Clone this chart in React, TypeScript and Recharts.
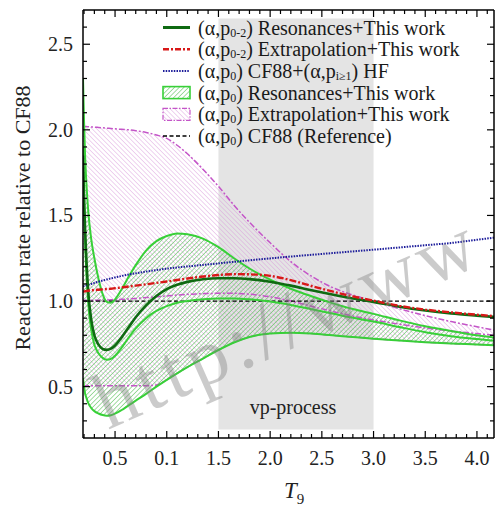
import { Area, ComposedChart, Line, ReferenceArea, ReferenceLine, XAxis, YAxis } from 'recharts'

const SERIF = "'Liberation Serif', 'Times New Roman', serif"

// temperature grid (T9) and curves
const T9 = [0.19, 0.2, 0.21, 0.22, 0.24, 0.27, 0.3, 0.34, 0.38, 0.42, 0.46, 0.5, 0.56, 0.63, 0.7, 0.8, 0.9, 1.0, 1.1, 1.2, 1.35, 1.5, 1.65, 1.8, 2.0, 2.2, 2.4, 2.6, 2.8, 3.0, 3.25, 3.5, 3.75, 4.0, 4.165]

const res02 = [1.85, 1.6, 1.42, 1.28, 1.06, 0.89, 0.8, 0.745, 0.72, 0.715, 0.722, 0.74, 0.785, 0.845, 0.905, 0.975, 1.03, 1.07, 1.095, 1.112, 1.127, 1.133, 1.133, 1.128, 1.113, 1.09, 1.063, 1.038, 1.015, 0.995, 0.967, 0.945, 0.928, 0.915, 0.907]
const ext02 = [1.055, 1.056, 1.057, 1.058, 1.06, 1.062, 1.064, 1.066, 1.068, 1.07, 1.072, 1.075, 1.079, 1.085, 1.09, 1.098, 1.106, 1.114, 1.123, 1.132, 1.143, 1.152, 1.157, 1.156, 1.147, 1.122, 1.088, 1.056, 1.027, 1.002, 0.972, 0.95, 0.934, 0.92, 0.912]
const hf = [1.085, 1.087, 1.089, 1.091, 1.095, 1.1, 1.106, 1.113, 1.12, 1.126, 1.132, 1.138, 1.146, 1.155, 1.162, 1.172, 1.181, 1.189, 1.196, 1.202, 1.211, 1.22, 1.229, 1.238, 1.249, 1.26, 1.27, 1.28, 1.29, 1.3, 1.313, 1.326, 1.339, 1.358, 1.37]

const gUp = [2.3, 2.05, 1.85, 1.72, 1.53, 1.36, 1.25, 1.13, 1.04, 0.995, 0.99, 1.01, 1.065, 1.14, 1.21, 1.295, 1.35, 1.38, 1.395, 1.39, 1.365, 1.315, 1.25, 1.19, 1.125, 1.072, 1.028, 0.988, 0.953, 0.925, 0.887, 0.853, 0.825, 0.8, 0.787]
const gMid = [1.9, 1.6, 1.36, 1.2, 0.99, 0.83, 0.745, 0.695, 0.668, 0.657, 0.662, 0.68, 0.725, 0.785, 0.84, 0.9, 0.942, 0.97, 0.99, 1.0, 1.01, 1.015, 1.015, 1.01, 0.997, 0.977, 0.952, 0.927, 0.902, 0.88, 0.848, 0.818, 0.795, 0.778, 0.768]
const gLo = [0.55, 0.5, 0.46, 0.44, 0.405, 0.375, 0.357, 0.343, 0.334, 0.33, 0.333, 0.342, 0.362, 0.39, 0.418, 0.458, 0.5, 0.54, 0.578, 0.614, 0.664, 0.714, 0.758, 0.79, 0.81, 0.815, 0.81, 0.8, 0.79, 0.78, 0.77, 0.76, 0.752, 0.746, 0.742]

const mUp = [2.02, 2.02, 2.02, 2.019, 2.018, 2.017, 2.016, 2.014, 2.012, 2.01, 2.008, 2.006, 2.003, 2.0, 1.995, 1.985, 1.97, 1.95, 1.91, 1.86, 1.77, 1.67, 1.56, 1.46, 1.34, 1.23, 1.145, 1.08, 1.035, 1.0, 0.955, 0.915, 0.88, 0.85, 0.83]
const mMid = [1.005, 1.005, 1.005, 1.005, 1.005, 1.005, 1.005, 1.005, 1.006, 1.006, 1.007, 1.008, 1.01, 1.012, 1.015, 1.02, 1.025, 1.03, 1.035, 1.039, 1.043, 1.045, 1.045, 1.04, 1.025, 1.0, 0.97, 0.94, 0.912, 0.89, 0.865, 0.843, 0.825, 0.81, 0.8]
const mLo = [0.505, 0.505, 0.505, 0.505, 0.505, 0.505, 0.505, 0.505, 0.505, 0.505, 0.505, 0.505, 0.505, 0.505, 0.505, 0.505, 0.51, 0.54, 0.578, 0.614, 0.664, 0.714, 0.758, 0.79, 0.81, 0.815, 0.81, 0.8, 0.79, 0.78, 0.77, 0.76, 0.752, 0.746, 0.742]

const cf88Ref = 1.0
const vpRange = [1.5, 3.0]

const xMajor = [0.5, 1.0, 1.5, 2.0, 2.5, 3.0, 3.5, 4.0]
const xTickLabels = ['0.5', '0.1', '1.5', '2.0', '2.5', '3.0', '3.5', '4.0']
const xTicks = [0.2, 0.3, 0.4, 0.5, 0.6, 0.7, 0.8, 0.9, 1.0, 1.1, 1.2, 1.3, 1.4, 1.5, 1.6, 1.7, 1.8, 1.9, 2.0, 2.1, 2.2, 2.3, 2.4, 2.5, 2.6, 2.7, 2.8, 2.9, 3.0, 3.1, 3.2, 3.3, 3.4, 3.5, 3.6, 3.7, 3.8, 3.9, 4.0, 4.1]
const yMajor = [0.5, 1.0, 1.5, 2.0, 2.5]
const yTickLabels = ['0.5', '1.0', '1.5', '2.0', '2.5']
const yTicks = [0.3, 0.4, 0.5, 0.6, 0.7, 0.8, 0.9, 1.0, 1.1, 1.2, 1.3, 1.4, 1.5, 1.6, 1.7, 1.8, 1.9, 2.0, 2.1, 2.2, 2.3, 2.4, 2.5, 2.6]

const data = T9.map((t, i) => ({
  t,
  res02: res02[i],
  ext02: ext02[i],
  hf: hf[i],
  gUp: gUp[i],
  gMid: gMid[i],
  gLo: gLo[i],
  mUp: mUp[i],
  mMid: mMid[i],
  mLo: mLo[i],
  gBand: [gLo[i], gUp[i]],
  mBand: [mLo[i], mUp[i]],
}))

const X_DOMAIN: [number, number] = [0.19, 4.165]
const Y_DOMAIN: [number, number] = [0.2, 2.7]

const DARK = '#0f6a12'
const LIGHT = '#38d038'
const RED = '#d81818'
const BLUE = '#1c1c9a'
const MAG = '#c455c8'

const labelOf = (v: number, majors: number[], labels: string[]) => {
  const i = majors.findIndex((m) => Math.abs(m - v) < 1e-6)
  return i < 0 ? null : labels[i]
}

function BottomTick({ x, y, payload }: any) {
  const lab = labelOf(payload.value, xMajor, xTickLabels)
  return (
    <g>
      <line x1={x} x2={x} y1={y} y2={y - (lab ? 7 : 4)} stroke="#000" strokeWidth={1.2} />
      {lab && (
        <text x={x} y={y + 27} textAnchor="middle" fontSize={20} fontFamily={SERIF} fill="#222">
          {lab}
        </text>
      )}
    </g>
  )
}

function TopTick({ x, y, payload }: any) {
  const major = labelOf(payload.value, xMajor, xTickLabels)
  return <line x1={x} x2={x} y1={y} y2={y + (major ? 7 : 4)} stroke="#000" strokeWidth={1.2} />
}

function LeftTick({ x, y, payload }: any) {
  const lab = labelOf(payload.value, yMajor, yTickLabels)
  return (
    <g>
      <line x1={x} x2={x + (lab ? 7 : 4)} y1={y} y2={y} stroke="#000" strokeWidth={1.2} />
      {lab && (
        <text x={x - 10} y={y + 7} textAnchor="end" fontSize={20} fontFamily={SERIF} fill="#222">
          {lab}
        </text>
      )}
    </g>
  )
}

function RightTick({ x, y, payload }: any) {
  const major = labelOf(payload.value, yMajor, yTickLabels)
  return <line x1={x} x2={x - (major ? 7 : 4)} y1={y} y2={y} stroke="#000" strokeWidth={1.2} />
}

// one legend label: "(α,p" + subscript + rest, optionally a second subscript
function Label({ y, sub, rest, sub2, tail }: { y: number; sub: string; rest: string; sub2?: string; tail?: string }) {
  return (
    <text x={198} y={y}>
      <tspan>(α,p</tspan>
      <tspan dy={2} fontSize={12}>
        {sub}
      </tspan>
      <tspan dy={-2}>{rest}</tspan>
      {sub2 && (
        <>
          <tspan dy={2} fontSize={12}>
            {sub2}
          </tspan>
          <tspan dy={-2}>{tail}</tspan>
        </>
      )}
    </text>
  )
}

function Legend() {
  const x0 = 163
  const x1 = 190
  const rows = [27.5, 49.2, 70.9, 92.6, 114.3, 136]
  const ty = (r: number) => r + 7
  return (
    <g fontFamily={SERIF} fontSize={20} fill="#1a1a1a">
      <line x1={x0} x2={x1} y1={rows[0]} y2={rows[0]} stroke={DARK} strokeWidth={3} />
      <Label y={ty(rows[0])} sub="0-2" rest=") Resonances+This work" />
      <line x1={x0} x2={x1} y1={rows[1]} y2={rows[1]} stroke={RED} strokeWidth={2.5} strokeDasharray="6 2 2 2" />
      <Label y={ty(rows[1])} sub="0-2" rest=") Extrapolation+This work" />
      <line x1={x0} x2={x1} y1={rows[2]} y2={rows[2]} stroke={BLUE} strokeWidth={2} strokeDasharray="1.5 1.2" />
      <Label y={ty(rows[2])} sub="0" rest=") CF88+(α,p" sub2="i≥1" tail=") HF" />
      <rect x={x0} y={rows[3] - 6} width={x1 - x0} height={12} fill="url(#gHatch)" stroke={LIGHT} strokeWidth={1.6} />
      <Label y={ty(rows[3])} sub="0" rest=") Resonances+This work" />
      <rect x={x0} y={rows[4] - 6} width={x1 - x0} height={12} fill="url(#mHatch)" stroke={MAG} strokeWidth={1.2} strokeDasharray="5 1.5 1.5 1.5" />
      <Label y={ty(rows[4])} sub="0" rest=") Extrapolation+This work" />
      <line x1={x0} x2={x1} y1={rows[5]} y2={rows[5]} stroke="#000" strokeWidth={1.4} strokeDasharray="4 2.5" />
      <Label y={ty(rows[5])} sub="0" rest=") CF88 (Reference)" />
    </g>
  )
}

export default function App() {
  return (
    <div style={{ position: 'absolute', left: 0, top: 0, width: 496, height: 506, background: '#fff' }}>
      <svg width={0} height={0} style={{ position: 'absolute' }}>
        <defs>
          <pattern id="gHatch" width={3.3} height={3.3} patternUnits="userSpaceOnUse" patternTransform="rotate(45)">
            <line x1={0} y1={0} x2={0} y2={3.3} stroke="#47b947" strokeWidth={1} />
          </pattern>
          <pattern id="mHatch" width={3.3} height={3.3} patternUnits="userSpaceOnUse" patternTransform="rotate(-45)">
            <line x1={0} y1={0} x2={0} y2={3.3} stroke="#d797da" strokeWidth={0.85} />
          </pattern>
        </defs>
      </svg>
      <ComposedChart width={496} height={506} data={data} margin={{ top: 9, right: 1, bottom: 0, left: 0 }}>
        <XAxis
          xAxisId="b"
          dataKey="t"
          type="number"
          domain={X_DOMAIN}
          allowDataOverflow
          ticks={xTicks}
          interval={0}
          height={68}
          tickSize={0}
          tickMargin={0}
          tick={<BottomTick />}
          axisLine={{ stroke: '#000', strokeWidth: 1.5 }}
          tickLine={false}
        />
        <XAxis
          xAxisId="t"
          orientation="top"
          dataKey="t"
          type="number"
          domain={X_DOMAIN}
          allowDataOverflow
          ticks={xTicks}
          interval={0}
          height={1}
          tickSize={0}
          tickMargin={0}
          tick={<TopTick />}
          axisLine={{ stroke: '#000', strokeWidth: 1.5 }}
          tickLine={false}
        />
        <YAxis
          yAxisId="l"
          type="number"
          domain={Y_DOMAIN}
          allowDataOverflow
          ticks={yTicks}
          interval={0}
          width={83}
          tickSize={0}
          tickMargin={0}
          tick={<LeftTick />}
          axisLine={{ stroke: '#000', strokeWidth: 1.5 }}
          tickLine={false}
        />
        <YAxis
          yAxisId="r"
          orientation="right"
          type="number"
          domain={Y_DOMAIN}
          allowDataOverflow
          ticks={yTicks}
          interval={0}
          width={1}
          tickSize={0}
          tickMargin={0}
          tick={<RightTick />}
          axisLine={{ stroke: '#000', strokeWidth: 1.5 }}
          tickLine={false}
        />
        <ReferenceArea xAxisId="b" yAxisId="l" x1={vpRange[0]} x2={vpRange[1]} y1={0.25} y2={2.65} fill="#e4e4e4" fillOpacity={1} stroke="none" />
        <Area xAxisId="b" yAxisId="l" type="monotone" dataKey="mBand" fill="url(#mHatch)" fillOpacity={1} stroke="none" isAnimationActive={false} />
        <Area xAxisId="b" yAxisId="l" type="monotone" dataKey="gBand" fill="url(#gHatch)" fillOpacity={1} stroke="none" isAnimationActive={false} />
        <Line xAxisId="b" yAxisId="l" type="monotone" dataKey="mUp" stroke={MAG} strokeWidth={1.5} strokeDasharray="6 2 2 2" dot={false} activeDot={false} isAnimationActive={false} />
        <Line xAxisId="b" yAxisId="l" type="monotone" dataKey="mMid" stroke={MAG} strokeWidth={1.5} strokeDasharray="6 2 2 2" dot={false} activeDot={false} isAnimationActive={false} />
        <Line xAxisId="b" yAxisId="l" type="monotone" dataKey="mLo" stroke={MAG} strokeWidth={1.5} strokeDasharray="6 2 2 2" dot={false} activeDot={false} isAnimationActive={false} />
        <ReferenceLine xAxisId="b" yAxisId="l" y={cf88Ref} stroke="#000" strokeWidth={1.3} strokeDasharray="4 2.5" />
        <Line xAxisId="b" yAxisId="l" type="monotone" dataKey="gUp" stroke={LIGHT} strokeWidth={2} dot={false} activeDot={false} isAnimationActive={false} />
        <Line xAxisId="b" yAxisId="l" type="monotone" dataKey="gMid" stroke={LIGHT} strokeWidth={2} dot={false} activeDot={false} isAnimationActive={false} />
        <Line xAxisId="b" yAxisId="l" type="monotone" dataKey="gLo" stroke={LIGHT} strokeWidth={2} dot={false} activeDot={false} isAnimationActive={false} />
        <Line xAxisId="b" yAxisId="l" type="monotone" dataKey="hf" stroke={BLUE} strokeWidth={2} strokeDasharray="1.5 1.2" dot={false} activeDot={false} isAnimationActive={false} />
        <Line xAxisId="b" yAxisId="l" type="monotone" dataKey="res02" stroke={DARK} strokeWidth={2.6} dot={false} activeDot={false} isAnimationActive={false} />
        <Line xAxisId="b" yAxisId="l" type="monotone" dataKey="ext02" stroke={RED} strokeWidth={2.4} strokeDasharray="7 2 2 2" dot={false} activeDot={false} isAnimationActive={false} />
      </ComposedChart>
      <svg width={496} height={506} style={{ position: 'absolute', left: 0, top: 0, pointerEvents: 'none' }}>
        <text x={293} y={414} textAnchor="middle" fontSize={20} fontFamily={SERIF} fill="#222">
          vp-process
        </text>
        <Legend />
        <text
          x={22}
          y={218}
          transform="rotate(-90, 22, 218)"
          textAnchor="middle"
          dominantBaseline="central"
          fontSize={22}
          fontFamily={SERIF}
          fill="#222"
        >
          Reaction rate relative to CF88
        </text>
        <text x={284} y={498} fontSize={23} fontFamily={SERIF} fill="#222">
          <tspan fontStyle="italic">T</tspan>
          <tspan dy={6} fontSize={15}>
            9
          </tspan>
        </text>
        <text
          x={108}
          y={430}
          transform="rotate(-24, 108, 430)"
          fontSize={80}
          fontFamily={SERIF}
          letterSpacing={5}
          fill="#808080"
          opacity={0.4}
        >
          http://www
        </text>
      </svg>
    </div>
  )
}
